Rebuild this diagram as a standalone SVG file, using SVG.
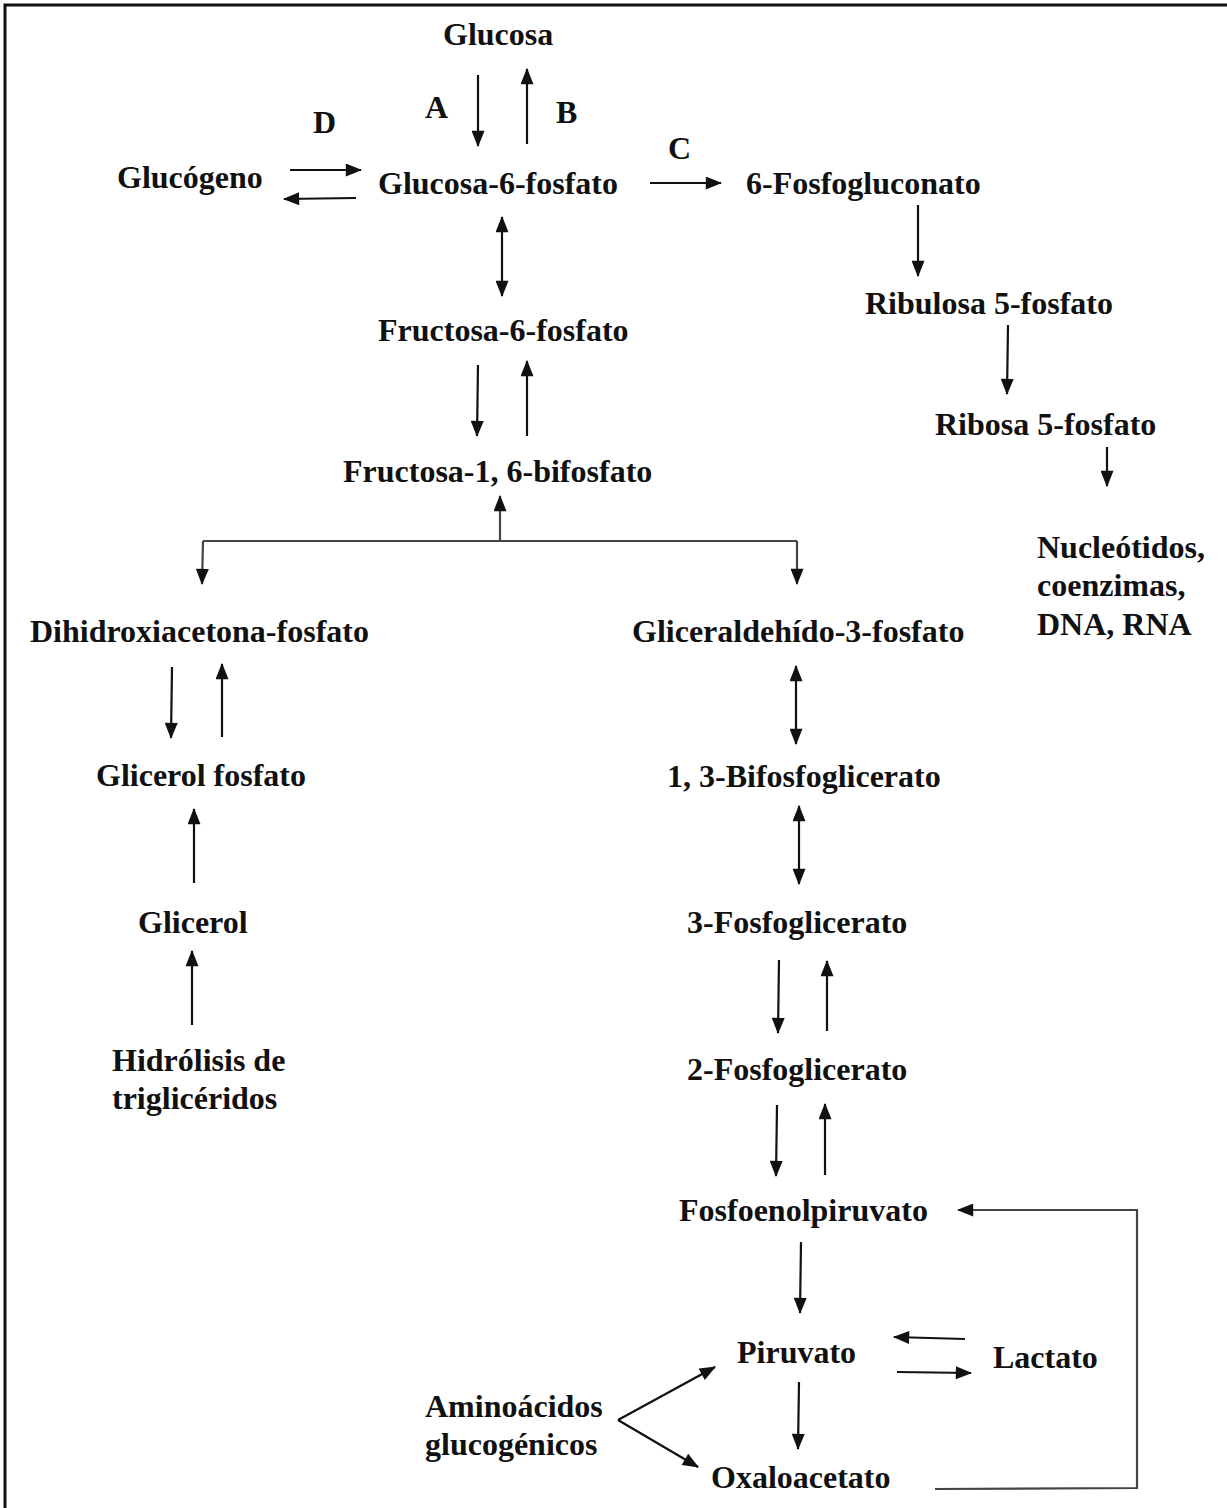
<svg xmlns="http://www.w3.org/2000/svg" width="1227" height="1508" viewBox="0 0 1227 1508">
<style>
text{font-family:"Liberation Serif","Times New Roman",serif;font-weight:bold;font-size:32px;fill:#111}
.ln{stroke:#111;stroke-width:2.2;fill:none}
.gr{stroke:#444;stroke-width:2.2;fill:none}
.e{marker-end:url(#ah)}
.b{marker-start:url(#ah);marker-end:url(#ah)}
</style>
<defs>
<marker id="ah" markerUnits="userSpaceOnUse" markerWidth="17" markerHeight="13" refX="14" refY="6" orient="auto-start-reverse" viewBox="0 0 15 12">
<path d="M0,0 L15,6 L0,12 z" fill="#111"/>
</marker>
</defs>
<rect x="0" y="0" width="1227" height="1508" fill="#fff"/>
<path d="M5,1508 L5,5 L1227,5" stroke="#111" stroke-width="3" fill="none"/>

<g id="connectors">
<line class="ln e" x1="478" y1="75" x2="478" y2="146"/>
<line class="ln e" x1="527" y1="144" x2="527" y2="69"/>
<line class="ln e" x1="290" y1="170" x2="361" y2="170"/>
<line class="ln e" x1="356" y1="198" x2="284" y2="199"/>
<line class="ln e" x1="650" y1="183" x2="721" y2="183"/>
<line class="ln b" x1="502" y1="217" x2="502" y2="296"/>
<line class="ln e" x1="478" y1="365" x2="477" y2="436"/>
<line class="ln e" x1="527" y1="436" x2="527" y2="361"/>
<line class="gr e" x1="500" y1="540" x2="500" y2="496"/>
<path class="gr" d="M203,541 L797,541"/>
<line class="gr e" x1="203" y1="541" x2="202" y2="584"/>
<line class="gr e" x1="797" y1="541" x2="797" y2="584"/>
<line class="ln e" x1="918" y1="205" x2="918" y2="276"/>
<line class="ln e" x1="1008" y1="325" x2="1007" y2="394"/>
<line class="ln e" x1="1107" y1="447" x2="1107" y2="486"/>
<line class="ln e" x1="172" y1="667" x2="171" y2="738"/>
<line class="ln e" x1="222" y1="737" x2="222" y2="664"/>
<line class="ln e" x1="194" y1="883" x2="194" y2="809"/>
<line class="ln e" x1="192" y1="1025" x2="192" y2="951"/>
<line class="ln b" x1="796" y1="666" x2="796" y2="744"/>
<line class="ln b" x1="799" y1="806" x2="799" y2="884"/>
<line class="ln e" x1="779" y1="960" x2="778" y2="1033"/>
<line class="ln e" x1="827" y1="1031" x2="827" y2="961"/>
<line class="ln e" x1="777" y1="1105" x2="776" y2="1176"/>
<line class="ln e" x1="825" y1="1175" x2="825" y2="1104"/>
<line class="ln e" x1="801" y1="1242" x2="800" y2="1313"/>
<line class="ln e" x1="965" y1="1339" x2="894" y2="1337"/>
<line class="ln e" x1="897" y1="1372" x2="971" y2="1373"/>
<line class="ln e" x1="799" y1="1382" x2="798" y2="1449"/>
<line class="ln e" x1="618" y1="1420" x2="715" y2="1367"/>
<line class="ln e" x1="618" y1="1420" x2="698" y2="1467"/>
<path class="gr e" d="M935,1489 L1137,1488 L1137,1210 L958,1210"/>
</g>

<g id="glucosa"><text x="443" y="45">Glucosa</text></g>
<g id="label-A"><text x="425" y="118">A</text></g>
<g id="label-B"><text x="556" y="123">B</text></g>
<g id="label-D"><text x="313" y="133">D</text></g>
<g id="label-C"><text x="668" y="159">C</text></g>
<g id="glucogeno"><text x="117" y="188">Glucógeno</text></g>
<g id="glucosa-6-fosfato"><text x="378" y="194">Glucosa-6-fosfato</text></g>
<g id="fosfogluconato"><text x="746" y="194">6-Fosfogluconato</text></g>
<g id="fructosa-6-fosfato"><text x="378" y="341">Fructosa-6-fosfato</text></g>
<g id="fructosa-16-bifosfato"><text x="343" y="482">Fructosa-1, 6-bifosfato</text></g>
<g id="ribulosa"><text x="865" y="314">Ribulosa 5-fosfato</text></g>
<g id="ribosa"><text x="935" y="435">Ribosa 5-fosfato</text></g>
<g id="nucleotidos"><text x="1037" y="558">Nucleótidos,</text><text x="1037" y="596">coenzimas,</text><text x="1037" y="635">DNA, RNA</text></g>
<g id="dhap"><text x="30" y="642">Dihidroxiacetona-fosfato</text></g>
<g id="gliceraldehido"><text x="632" y="642">Gliceraldehído-3-fosfato</text></g>
<g id="glicerol-fosfato"><text x="96" y="786">Glicerol fosfato</text></g>
<g id="bifosfoglicerato"><text x="667" y="787">1, 3-Bifosfoglicerato</text></g>
<g id="glicerol"><text x="138" y="933">Glicerol</text></g>
<g id="fosfoglicerato-3"><text x="687" y="933">3-Fosfoglicerato</text></g>
<g id="hidrolisis"><text x="112" y="1071">Hidrólisis de</text><text x="112" y="1109">triglicéridos</text></g>
<g id="fosfoglicerato-2"><text x="687" y="1080">2-Fosfoglicerato</text></g>
<g id="pep"><text x="679" y="1221">Fosfoenolpiruvato</text></g>
<g id="piruvato"><text x="737" y="1363">Piruvato</text></g>
<g id="lactato"><text x="993" y="1368">Lactato</text></g>
<g id="aminoacidos"><text x="425" y="1417">Aminoácidos</text><text x="425" y="1455">glucogénicos</text></g>
<g id="oxaloacetato"><text x="711" y="1488">Oxaloacetato</text></g>
</svg>
